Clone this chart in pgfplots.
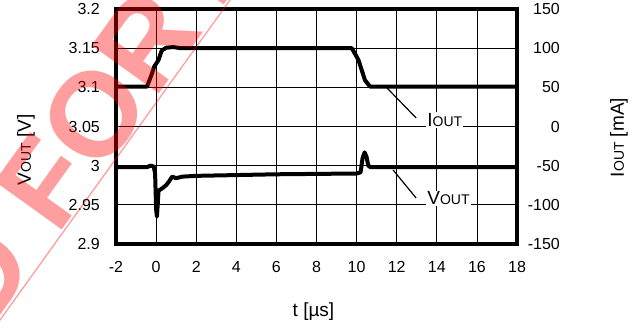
\documentclass[border=0pt]{standalone}
\usepackage{fontspec}
\setmainfont{Liberation Sans}
\usepackage{pgfplots}
\pgfplotsset{compat=1.18}
\newcommand{\sub}[1]{{\fontsize{14}{16}\selectfont #1}}
\newcommand{\tickfont}{\fontsize{16}{19}\selectfont}
\newcommand{\labfont}{\fontsize{19}{22}\selectfont}
\newcommand{\wmfont}{\fontsize{120}{130}\selectfont\bfseries}
\begin{document}
\begin{tikzpicture}
\path[use as bounding box] (0pt,0pt) rectangle (640pt,327pt);
\begin{axis}[
  at={(116pt,83pt)}, anchor=south west,
  scale only axis, width=401pt, height=235pt,
  xmin=-2, xmax=18, ymin=2.9, ymax=3.2,
  xtick={-2,0,2,4,6,8,10,12,14,16,18},
  ytick={2.9,2.95,3,3.05,3.1,3.15,3.2},
  /pgf/number format/assume math mode=true,
  grid=major,
  major grid style={line width=0.7pt, black},
  axis line style={line width=4.2pt},
  tick style={draw=none},
  xticklabel style={font=\tickfont, inner sep=0pt, yshift=-17pt},
  yticklabel style={font=\tickfont, inner sep=0pt, xshift=-16pt},
  label style={font=\labfont},
  xlabel={t [µs]},
  xlabel style={at={(rel axis cs:0.4925,-0.289)}, anchor=center},
  ylabel={V\sub{OUT} [V]},
  ylabel style={at={(rel axis cs:-0.2244,0.40)}, anchor=center},
]
\addplot[black, line width=4pt, line join=round, line cap=round] coordinates {
(-2,2.998) (-0.45,2.998) (-0.3,3.0) (-0.12,2.999) (-0.05,2.99) (0.0,2.945)
(0.04,2.935) (0.08,2.95) (0.12,2.968) (0.3,2.971) (0.5,2.975) (0.65,2.980)
(0.8,2.986) (1.0,2.984) (1.3,2.986) (2,2.987) (4,2.988) (6,2.989) (8,2.9895)
(10,2.990) (10.2,2.9915) (10.3,3.010) (10.4,3.017) (10.5,3.011) (10.58,3.000)
(10.7,2.998) (18,2.998)
};
\draw[line width=1.2pt] (axis cs:11.52,3.0991) -- (axis cs:12.97,3.0609);
\draw[line width=1.2pt] (axis cs:11.82,2.9945) -- (axis cs:12.97,2.9587);
\node[anchor=base west, fill=white, inner sep=1pt, font=\labfont] at (axis cs:13.47,3.05) {I\sub{OUT}};
\node[anchor=base west, fill=white, inner sep=1pt, font=\labfont] at (axis cs:13.47,2.95) {V\sub{OUT}};
\end{axis}
\begin{axis}[
  at={(116pt,83pt)}, anchor=south west,
  scale only axis, width=401pt, height=235pt,
  xmin=-2, xmax=18, ymin=-150, ymax=150,
  axis x line=none, axis y line*=right,
  y axis line style={draw=none},
  ytick={-150,-100,-50,0,50,100,150},
  /pgf/number format/assume math mode=true,
  tick style={draw=none},
  yticklabel style={font=\tickfont, anchor=east, inner sep=0pt, xshift=43pt},
  label style={font=\labfont},
  ylabel={I\sub{OUT} [mA]},
  ylabel style={at={(rel axis cs:1.2544,0.453)}, anchor=center, rotate=0},
]
\addplot[black, line width=4pt, line join=round, line cap=round] coordinates {
(-2,51) (-0.45,51) (-0.2,68) (-0.1,76) (0.12,85) (0.28,97) (0.5,100.5)
(0.85,101.5) (1.2,100) (9.76,100) (10.09,85) (10.42,59) (10.67,51) (18,51)
};
\end{axis}
\begin{scope}
\clip (0pt,0pt) rectangle (640pt,327pt);
\begin{scope}[shift={(131.6pt,193.6pt)}, rotate=54.3, transform shape]
\node[anchor=base, inner sep=0pt, text=red, text opacity=0.38, font=\wmfont] at (0pt,0pt) {FOR};
\node[anchor=base east, inner sep=0pt, text=red, text opacity=0.38, font=\wmfont] at (-160pt,0pt) {NOT RECOMMENDED};
\node[anchor=base west, inner sep=0pt, text=red, text opacity=0.38, font=\wmfont] at (150pt,0pt) {NEW DESIGN};
\end{scope}
\draw[red, opacity=0.38, line width=1.3pt] (-20pt,-20.8pt) -- (250pt,354.8pt);
\end{scope}
\end{tikzpicture}
\end{document}
